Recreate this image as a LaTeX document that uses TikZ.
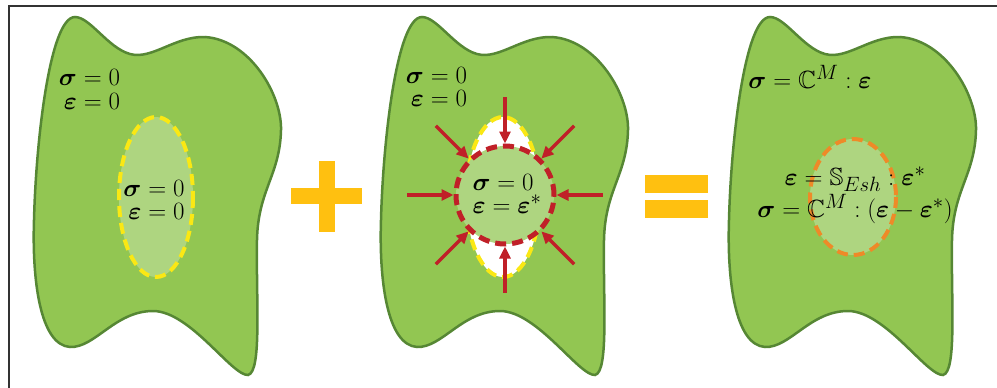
\documentclass[tikz,border=0pt]{standalone}
\usepackage{amsmath,amssymb}
\usetikzlibrary{arrows.meta,calc}

\definecolor{blobgreen}{RGB}{146,198,82}
\definecolor{blobedge}{RGB}{86,135,52}
\definecolor{inclgreen}{RGB}{174,213,128}
\definecolor{eigyellow}{RGB}{250,232,20}
\definecolor{pushred}{RGB}{192,32,40}
\definecolor{eshorange}{RGB}{238,138,40}
\definecolor{signgold}{RGB}{255,192,16}

\tikzset{
  body/.style={fill=blobgreen, draw=blobedge, line width=2.5pt},
  eqn/.style={inner sep=0pt, font=\fontsize{24.88}{23.3}\selectfont},
  push/.style={draw=pushred, line width=3.2pt, -{Triangle[length=12pt,width=11pt]}},
  sign/.style={fill=signgold},
}

\begin{document}
\begin{tikzpicture}[x=1pt,y=-1pt]
\useasboundingbox (0,0) rectangle (997,388);
\draw[line width=1.5pt, black!80] (9,388) -- (9,6) -- (997,6);

% the three bodies
\foreach \dx in {0,347,695}
  \filldraw[body, shift={(\dx,0)}] (75,17) .. controls (90,17) and (108,48) .. (130,54)
    .. controls (152,60) and (175,36) .. (205,37)
    .. controls (250,40) and (282,95) .. (281,130)
    .. controls (280,175) and (258,190) .. (257,240)
    .. controls (256,300) and (262,372) .. (248,375)
    .. controls (232,376) and (190,311) .. (153,311)
    .. controls (115,311) and (95,348) .. (70,347)
    .. controls (40,345) and (32,280) .. (34,220)
    .. controls (36,140) and (50,17) .. (75,17) -- cycle;

% inclusion without eigenstrain
\draw[eigyellow, line width=4pt, dash pattern=on 11pt off 6pt, fill=inclgreen] (156,197) ellipse [x radius=37, y radius=80];
\node[eqn, align=right] (outerA) at (89.5,89.6) {$\boldsymbol{\sigma}=0$\\$\boldsymbol{\varepsilon}=0$};
\node[eqn, align=right] (innerA) at (154,200.3) {$\boldsymbol{\sigma}=0$\\$\boldsymbol{\varepsilon}=0$};

% plus
\fill[sign] (319,161) rectangle (335,232);
\fill[sign] (291,188) rectangle (362,204);

% inclusion pushed back
\draw[eigyellow, line width=4pt, dash pattern=on 11pt off 6pt, fill=white] (503,197) ellipse [x radius=37, y radius=80];
\node[draw=pushred, line width=5pt, dash pattern=on 11pt off 6pt, fill=inclgreen, circle, minimum size=98pt, inner sep=0pt] (ring) at (505,195) {};
\foreach \a in {0,45,...,315}
  \draw[push] ($(ring.center)!1.9!(ring.\a)$) -- (ring.\a);
\node[eqn, align=right] (outerB) at (436.5,87) {$\boldsymbol{\sigma}=0$\\$\boldsymbol{\varepsilon}=0$};
\node[eqn, align=left, font=\fontsize{24.88}{23}\selectfont] (innerB) at (507,194) {$\boldsymbol{\sigma}=0$\\$\boldsymbol{\varepsilon}=\boldsymbol{\varepsilon}^*$};

% equals
\fill[sign] (645,175) rectangle (708,193);
\fill[sign] (645,200) rectangle (708,218);

% Eshelby solution
\draw[eshorange, line width=4pt, dash pattern=on 11pt off 6pt, fill=inclgreen] (853,197) ellipse [x radius=43, y radius=58];
\node[eqn] (outerC) at (810,77) {$\boldsymbol{\sigma}=\mathbb{C}^M:\boldsymbol{\varepsilon}$};
\node[eqn, align=center, font=\fontsize{24.88}{31.5}\selectfont] (innerC) at (855,195.5) {$\boldsymbol{\varepsilon}=\mathbb{S}_{Esh}:\boldsymbol{\varepsilon}^*$\\$\boldsymbol{\sigma}=\mathbb{C}^M:(\boldsymbol{\varepsilon}-\boldsymbol{\varepsilon}^*)$};
\end{tikzpicture}
\end{document}
